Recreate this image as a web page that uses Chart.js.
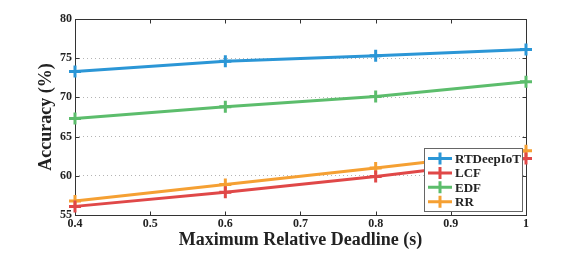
<!DOCTYPE html>
<html><head><meta charset="utf-8">
<script src="https://cdn.jsdelivr.net/npm/chart.js@4"></script>
<style>html,body{margin:0;padding:0;background:#fff}#wrap{width:581px;height:254px}</style>
</head><body><div id="wrap"><canvas id="c" width="581" height="254"></canvas></div>
<script>
const deadlines = [0.4, 0.6, 0.8, 1.0];
const rtdeepiot = [73.3, 74.6, 75.3, 76.1];
const lcf = [56.1, 57.9, 59.9, 62.2];
const edf = [67.3, 68.8, 70.1, 72.0];
const rr = [56.8, 58.9, 61.0, 63.2];
const seriesNames = ['RTDeepIoT', 'LCF', 'EDF', 'RR'];
const seriesColors = ['#2b96d6', '#e04848', '#5cbd6c', '#f5a033'];
const xTicks = [0.4, 0.5, 0.6, 0.7, 0.8, 0.9, 1];
const yTicks = [55, 60, 65, 70, 75, 80];

const FONT = "'Liberation Serif', 'Times New Roman', serif";
const allSeries = [rtdeepiot, lcf, edf, rr];

const datasets = allSeries.map((vals, i) => ({
  label: seriesNames[i],
  data: vals.map((v, j) => ({x: deadlines[j], y: v})),
  borderColor: seriesColors[i],
  backgroundColor: seriesColors[i],
  borderWidth: 3,
  pointStyle: 'cross',
  pointRadius: 6,
  pointBorderWidth: 3,
  pointHoverRadius: 6,
  tension: 0,
  clip: false
}));

const boxPlugin = {
  id: 'box',
  beforeDatasetsDraw(chart) {
    const {ctx, chartArea: a, scales} = chart;
    ctx.save();
    ctx.strokeStyle = '#333';
    ctx.lineWidth = 1;
    const L = Math.round(a.left) + 0.5, R = Math.round(a.right) + 0.5;
    const T = Math.round(a.top) + 0.5, B = Math.round(a.bottom) + 0.5;
    ctx.strokeRect(L, T, R - L, B - T);
    ctx.beginPath();
    const tl = 4;
    xTicks.forEach(v => {
      const x = Math.round(scales.x.getPixelForValue(v)) + 0.5;
      ctx.moveTo(x, B); ctx.lineTo(x, B - tl);
      ctx.moveTo(x, T); ctx.lineTo(x, T + tl);
    });
    yTicks.forEach(v => {
      const y = Math.round(scales.y.getPixelForValue(v)) + 0.5;
      ctx.moveTo(L, y); ctx.lineTo(L + tl, y);
      ctx.moveTo(R, y); ctx.lineTo(R - tl, y);
    });
    ctx.stroke();
    ctx.restore();
  },
  afterDatasetsDraw(chart) {
    const {ctx} = chart;
    const x0 = 424, y0 = 148, w = 98, h = 63;
    ctx.save();
    ctx.fillStyle = '#fff';
    ctx.fillRect(x0, y0, w, h);
    ctx.strokeStyle = '#666';
    ctx.lineWidth = 1;
    ctx.strokeRect(x0 + 0.5, y0 + 0.5, w, h);
    ctx.font = 'bold 13px ' + FONT;
    ctx.textBaseline = 'middle';
    chart.data.datasets.forEach((ds, i) => {
      const cy = 158.5 + i * 14.4;
      ctx.strokeStyle = ds.borderColor;
      ctx.lineWidth = 3;
      ctx.beginPath();
      ctx.moveTo(428, cy); ctx.lineTo(452, cy);
      ctx.moveTo(440, cy - 6); ctx.lineTo(440, cy + 6);
      ctx.stroke();
      ctx.fillStyle = '#222';
      ctx.fillText(ds.label, 455, cy + 1);
    });
    ctx.restore();
  }
};

new Chart(document.getElementById('c'), {
  type: 'line',
  data: {datasets},
  options: {
    responsive: false,
    devicePixelRatio: 1,
    animation: false,
    events: [],
    layout: {padding: {left: 0, top: 19, right: 55, bottom: 0}},
    plugins: {legend: {display: false}, tooltip: {enabled: false}},
    scales: {
      x: {
        type: 'linear', min: 0.4, max: 1,
        afterBuildTicks: s => { s.ticks = xTicks.map(v => ({value: v})); },
        afterFit: s => { s.height = 39; },
        grid: {display: false, drawTicks: false},
        border: {display: false},
        ticks: {
          autoSkip: false, maxRotation: 0, padding: 2,
          color: '#222', font: {family: FONT, size: 12, weight: 'bold'},
          callback: v => v === 1 ? '1' : v.toFixed(1)
        },
        title: {display: true, text: 'Maximum Relative Deadline (s)', color: '#222',
          font: {family: FONT, size: 18, weight: 'bold'}, padding: {top: 0, bottom: 3}}
      },
      y: {
        min: 55, max: 80,
        afterBuildTicks: s => { s.ticks = yTicks.map(v => ({value: v})); },
        afterFit: s => { s.width = 75; },
        grid: {display: true, color: '#b4b4b4', drawTicks: false, lineWidth: 1},
        border: {display: false, dash: [1, 3]},
        ticks: {
          padding: 3, color: '#222', font: {family: FONT, size: 12, weight: 'bold'}
        },
        title: {display: true, text: 'Accuracy (%)', color: '#222',
          font: {family: FONT, size: 18, weight: 'bold'}, padding: {top: 36, bottom: 0}}
      }
    }
  },
  plugins: [boxPlugin]
});
</script></body></html>
